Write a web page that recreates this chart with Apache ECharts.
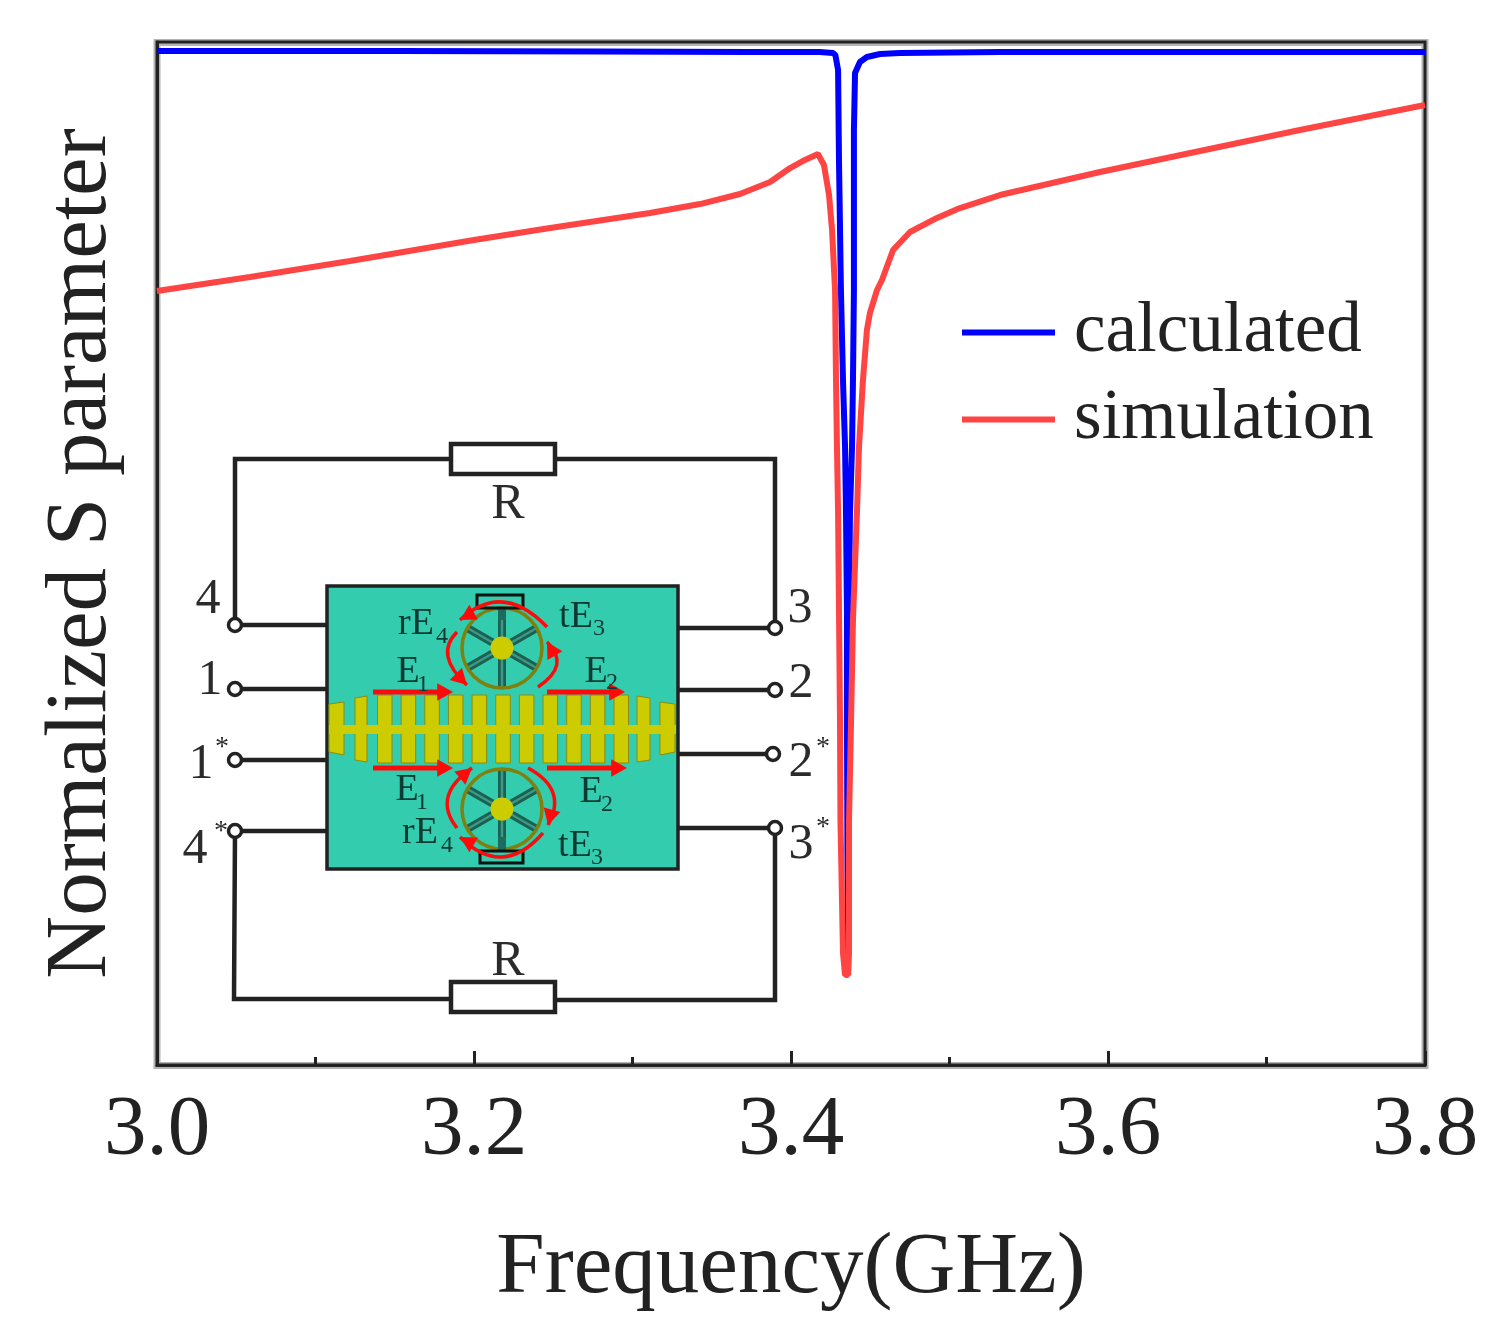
<!DOCTYPE html>
<html><head><meta charset="utf-8">
<style>html,body{margin:0;padding:0;background:#fff}#c{width:1511px;height:1331px}</style>
<script src="https://cdn.jsdelivr.net/npm/echarts@6/dist/echarts.min.js"></script>
</head><body><div id="c"></div>
<script>
const xTicks = ['3.0','3.2','3.4','3.6','3.8'];
const xTitle = 'Frequency(GHz)';
const yTitle = 'Normalized S parameter';
const calcFreq = [3.000,3.153,3.2795,3.374,3.418,3.4265,3.428,3.4297,3.4303,3.4315,3.4328,3.4341,3.4347,3.4353,3.4353,3.4356,3.436,3.4363,3.4363,3.4366,3.4372,3.4385,3.4391,3.4397,3.4397,3.4404,3.4435,3.4479,3.4562,3.4688,3.5319,3.658,3.8];
const calcVals = [.9912,.9912,.9907,.9902,.9902,.9892,.9873,.9726,.8817,.7576,.6696,.6041,.5396,.4418,.3372,.2102,.088,.2102,.3372,.4418,.5396,.6041,.6696,.7576,.914,.9697,.9804,.9853,.9883,.9892,.9902,.9902,.9902];
const simFreq = [3.0,3.0587,3.1218,3.2,3.248,3.311,3.3426,3.3678,3.3868,3.3994,3.4088,3.417,3.4208,3.424,3.4259,3.4278,3.4284,3.429,3.4297,3.4303,3.4309,3.4312,3.4328,3.4341,3.436,3.4366,3.4366,3.4379,3.4391,3.4416,3.4429,3.4454,3.4479,3.4498,3.4543,3.4574,3.4644,3.4751,3.4921,3.5066,3.5319,3.595,3.658,3.7211,3.8];
const simVals = [.7566,.7703,.7859,.8065,.8182,.8328,.8416,.8514,.8632,.8768,.8847,.8905,.8798,.8504,.8162,.7576,.6696,.6041,.5396,.4418,.3372,.2395,.1095,.088,.088,.1095,.2395,.3372,.435,.5396,.6041,.6696,.7185,.7351,.7576,.7674,.7967,.8143,.828,.8377,.8504,.8729,.8935,.914,.9384];
const seriesNames = ['calculated','simulation'];

const SERIF = '"Liberation Serif","Times New Roman",serif';
const INK = '#222', BOARD = '#33CCAE', METAL = '#CCCC00', RED = '#FF0A0A', OLIVE = '#808010', DARK = '#0b3a32';
const g = [];
const line = (pts, w = 4.5, c = INK) => g.push({type:'polyline', silent:true, shape:{points:pts}, style:{stroke:c, lineWidth:w, fill:null}});
const rect = (x1,y1,x2,y2,fill,stroke,w) => g.push({type:'rect', silent:true, shape:{x:x1,y:y1,width:x2-x1,height:y2-y1}, style:{fill:fill, stroke:stroke, lineWidth:w}});
const circ = (x,y,r,fill,stroke,w) => g.push({type:'circle', silent:true, shape:{cx:x,cy:y,r:r}, style:{fill:fill, stroke:stroke, lineWidth:w}});
const txt = (s,x,y,size,c = '#2b2b2b') => g.push({type:'text', silent:true, x:x, y:y, style:{text:s, font:size+'px '+SERIF, fill:c, align:'center', verticalAlign:'middle'}});
const tri = (x,y,ang,size = 15) => {
  const a = ang*Math.PI/180, p = [[x,y],[x-size*Math.cos(a-.5),y-size*Math.sin(a-.5)],[x-size*Math.cos(a+.5),y-size*Math.sin(a+.5)]];
  g.push({type:'polygon', silent:true, shape:{points:p}, style:{fill:RED}});
};
const bez = (x1,y1,cx,cy,x2,y2,ang) => {
  g.push({type:'bezierCurve', silent:true, shape:{x1:x1,y1:y1,cpx1:cx,cpy1:cy,x2:x2,y2:y2}, style:{stroke:RED, lineWidth:3.5, fill:null}});
  if (ang !== undefined) tri(x2,y2,ang,18);
};
const poly = pts => g.push({type:'polygon',silent:true,shape:{points:pts},style:{fill:METAL,stroke:'#8c8c10',lineWidth:1}});

// soft halo of the plot frame
g.push({type:'rect', silent:true, z:-10, shape:{x:157,y:42.5,width:1268,height:1023}, style:{fill:null, stroke:'#b4b4b4', lineWidth:7}});

// resistor network
line([[235,625],[235,459],[450,459]]);
line([[555,459],[775,459],[775,628]]);
rect(451,444,555,474,'#fff',INK,4.5);
line([[235,831],[234,999],[450,999]]);
line([[555,1000],[775,1000],[775,828]]);
rect(451,982,555,1012,'#fff',INK,4.5);
const leftPorts = [[235,625],[235,689],[235,760],[235,831]];
const rightPorts = [[775,628],[775,690],[773,754],[775,828]];
leftPorts.forEach(p => line([p,[327,p[1]]]));
rightPorts.forEach(p => line([[678,p[1]],p]));
leftPorts.concat(rightPorts).forEach(p => circ(p[0],p[1],6.5,'#fff',INK,3.5));

// board
rect(327,586,678,869,BOARD,INK,3.5);
// comb line
for (let i=0;i<11;i++){ const x=377.5+i*23.65; rect(x,695,x+14.5,763,METAL,'#8c8c10',1); }
poly([[329,704],[344,702],[344,755],[329,752]]);
poly([[355,698],[367,696],[367,762],[355,760]]);
poly([[637,696],[650,698],[650,760],[637,762]]);
poly([[660,702],[675,704],[675,752],[660,755]]);
rect(329,725,676,734,METAL,'#8c8c10',0);

// stepped-impedance wheels
const wheel = (cx,cy) => {
  [90,30,150,210,270,330].forEach(d => {
    const a=d*Math.PI/180;
    line([[cx+11*Math.cos(a),cy+11*Math.sin(a)],[cx+40*Math.cos(a),cy+40*Math.sin(a)]],8,'#1d5f52');
    line([[cx+11*Math.cos(a),cy+11*Math.sin(a)],[cx+40*Math.cos(a),cy+40*Math.sin(a)]],2.5,'#3a9a84');
  });
  circ(cx,cy,40,null,OLIVE,3.5);
  circ(cx,cy,11.5,METAL,null,0);
};
wheel(502,648); wheel(502,809);
line([[502,608],[502,620]],8,'#1d6b5c');
line([[502,837],[502,851]],8,'#1d6b5c');
rect(477,595,523,608,null,'#111',3);
rect(480,851,523,863,null,'#111',3);

// wave arrows
[[373,692,453],[547,692,625],[373,768,453],[547,768,627]].forEach(a => {
  line([[a[0],a[1]],[a[2]-10,a[1]]],5,RED);
  tri(a[2],a[1],0,18);
});
bez(547,627,502.5,580.5,460,620,150);
bez(457,632,434,655,467,685,45);
bez(538,687,571,665,547,642,-120);
bez(457,828,431.5,796,472,768,-40);
bez(528,768,568,789.5,548,825,105);
bez(543,833,502.5,879,460,837,-150);

// labels
[['4',208,600],['3',800,609],['1',210,681],['2',801,684],['1',201,765],['2',801,763],['4',195,850],['3',801,845],['R',508,505],['R',508,962]].forEach(t => txt(t[0],t[1],t[2],50));
[[222,748],[823,748],[221,832],[823,828]].forEach(p => txt('*',p[0],p[1],28));
[['rE',416,624,'4',442,637],['tE',576,617,'3',599,629],['E',408,672,'1',423,685],['E',596,672,'2',612,683],['E',407,790,'1',422,803],['E',591,792,'2',607,805],['rE',420,833,'4',447,846],['tE',575,846,'3',597,858]].forEach(t => {
  txt(t[0],t[1],t[2],38,DARK); txt(t[3],t[4],t[5],24,DARK);
});

const chart = echarts.init(document.getElementById('c'), null, {renderer:'canvas'});
chart.setOption({
  animation:false,
  backgroundColor:'#fff',
  grid:{left:157,right:86,top:42,bottom:266,outerBoundsMode:'none',containLabel:false,show:true,borderColor:'#222',borderWidth:3,backgroundColor:'transparent'},
  legend:{data:seriesNames,orient:'vertical',left:957,top:292,itemWidth:93,itemHeight:6,itemGap:16,icon:'rect',
    textStyle:{fontFamily:SERIF,fontSize:71,color:'#222',padding:[0,0,8,14]}},
  xAxis:{type:'value',min:3.0,max:3.8,interval:0.2,
    name:xTitle,nameLocation:'middle',nameGap:161,
    nameTextStyle:{fontFamily:SERIF,fontSize:87,color:'#222'},
    axisLine:{show:true,lineStyle:{color:'#222',width:3}},
    axisTick:{show:true,inside:true,length:14,lineStyle:{color:'#222',width:3}},
    minorTick:{show:true,splitNumber:2,length:8,lineStyle:{color:'#222',width:3}},
    splitLine:{show:false},
    axisLabel:{margin:24,fontFamily:SERIF,fontSize:85,color:'#222',formatter:v => xTicks[Math.round((v-3)/0.2)],hideOverlap:false,showMinLabel:true,showMaxLabel:true}},
  yAxis:{type:'value',min:0,max:1,
    name:yTitle,nameLocation:'middle',nameGap:31,nameRotate:90,
    nameTextStyle:{fontFamily:SERIF,fontSize:87,color:'#222'},
    axisLine:{show:true,lineStyle:{color:'#222',width:3}},
    axisTick:{show:false},axisLabel:{show:false},splitLine:{show:false}},
  series:[
    {name:seriesNames[0],type:'line',showSymbol:false,symbol:'none',clip:true,
     data:calcFreq.map((f,i)=>[f,calcVals[i]]),lineStyle:{color:'#0000FF',width:6},itemStyle:{color:'#0000FF'}},
    {name:seriesNames[1],type:'line',showSymbol:false,symbol:'none',clip:true,
     data:simFreq.map((f,i)=>[f,simVals[i]]),lineStyle:{color:'#FF4444',width:6},itemStyle:{color:'#FF4444'}}
  ],
  graphic:{elements:g}
});
</script></body></html>
